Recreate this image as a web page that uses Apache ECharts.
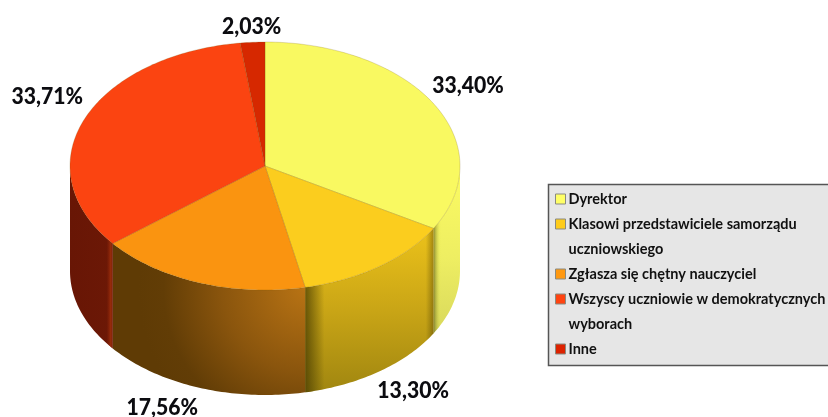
<!DOCTYPE html>
<html><head><meta charset="utf-8">
<style>html,body{margin:0;padding:0;background:#fff;overflow:hidden}#c{width:828px;height:417px}</style>
<script src="https://cdn.jsdelivr.net/npm/echarts@6/dist/echarts.min.js"></script>
</head><body><div id="c"></div>
<script>
const categories = ['Dyrektor','Klasowi przedstawiciele samorządu\nuczniowskiego','Zgłasza się chętny nauczyciel','Wszyscy uczniowie w demokratycznych\nwyborach','Inne'];
const values = [33.40,13.30,17.56,33.71,2.03];
const topColors = ['#f9f961','#fbcd1e','#fa9410','#fb4411','#d62800'];
const swatchColors = ['#ffff66','#ffcc1a','#ff9911','#ff4411','#dd2200'];

// Pie geometry
const CX=265, CY=166, RX=195, RY=124, DEPTH=105;
const labelOffsets=[[34,-18],[34,19],[-37,20],[-37,-23],[-1,-16]];
const LG=(x,y,x2,y2,stops)=>new echarts.graphic.LinearGradient(x,y,x2,y2,stops.map(s=>({offset:s[0],color:s[1]})));
const RG=(x,y,r,stops)=>new echarts.graphic.RadialGradient(x,y,r,stops.map(s=>({offset:s[0],color:s[1]})));
const wallFill=[
  ()=>LG(0,0,0,1,[[0,'#fbfb62'],[0.55,'#eeee62'],[1,'#d8d85c']]),
  ()=>LG(0,0,0,1,[[0,'#ecc21a'],[0.5,'#c9a516'],[1,'#a08610']]),
  ()=>RG(1,0.3,1.1,[[0,'#b87314'],[0.5,'#8a550d'],[0.85,'#623d06'],[1,'#5f3b05']]),
  ()=>LG(0,0,1,0,[[0,'#681605'],[1,'#6c1806']]),
  ()=>'#6a1705'
];
const wallEdge=[
  ()=>LG(0,0,1,0,[[0,'rgba(90,90,30,0.7)'],[0.14,'rgba(150,150,40,0.3)'],[0.3,'rgba(255,255,90,0)'],[1,'rgba(255,255,90,0)']]),
  ()=>LG(0,0,1,0,[[0,'rgba(60,50,0,0.7)'],[0.15,'rgba(60,50,0,0)'],[0.94,'rgba(60,50,0,0)'],[1,'rgba(60,50,0,0.4)']]),
  null,
  ()=>LG(0,0,1,0,[[0,'rgba(150,40,10,0)'],[0.86,'rgba(150,40,10,0)'],[0.96,'rgba(165,50,12,0.85)'],[1,'rgba(120,30,8,0.4)']]),
  null
];
const rim=(deg,dy)=>{const a=deg*Math.PI/180;return [CX+RX*Math.sin(a),CY-RY*Math.cos(a)+(dy||0)];};
const total=values.reduce((a,b)=>a+b,0);
const startDeg=i=>values.slice(0,i).reduce((a,b)=>a+b,0)/total*360;

function arc(a0,a1,dy){const pts=[];const n=Math.max(2,Math.ceil((a1-a0)/1));for(let k=0;k<=n;k++)pts.push(rim(a0+(a1-a0)*k/n,dy));return pts;}

function renderItem(params,api){
  const i=params.dataIndex, v=api.value(0);
  const a0=startDeg(i), a1=a0+v/total*360;
  const children=[];
  const w0=Math.max(a0,90), w1=Math.min(a1,270);
  if(w1>w0){
    const wall=arc(w0,w1,0).concat(arc(w0,w1,DEPTH).reverse());
    children.push({type:'polygon',shape:{points:wall},style:{fill:wallFill[i](),stroke:null}});
    if(wallEdge[i]) children.push({type:'polygon',shape:{points:wall},style:{fill:wallEdge[i](),stroke:null}});
  }
  children.push({type:'polygon',shape:{points:[[CX,CY]].concat(arc(a0,a1,0))},
    style:{fill:topColors[i],stroke:'rgba(110,80,0,0.35)',lineWidth:0.6}});
  const mid=(a0+a1)/2, front=mid>90&&mid<270, p=rim(mid,front?DEPTH:0), o=labelOffsets[i];
  children.push({type:'text',x:p[0]+o[0],y:p[1]+o[1],scaleX:0.94,style:{x:0,y:0,
    text:v.toFixed(2).replace('.',',')+'%',align:'center',verticalAlign:'middle',
    fill:'#0c0c10',font:'900 22.5px Lato'}});
  return {type:'group',children};
}

// Legend box
const LEGEND_X=548, LEGEND_Y=184.5, LINE=25;
const legendEls=[{type:'rect',shape:{x:LEGEND_X+0.5,y:LEGEND_Y,width:290,height:181},
  style:{fill:'#e6e6e6',stroke:'#555',lineWidth:1.5}}];
let row=0;
categories.forEach((name,i)=>{
  const y=LEGEND_Y+14.5+row*LINE;
  legendEls.push({type:'rect',shape:{x:555.5,y:y-5,width:10,height:10},style:{fill:swatchColors[i],stroke:'#8a8a80',lineWidth:1}});
  name.split('\n').forEach((ln,k)=>{
    legendEls.push({type:'text',x:568.5,y:y+k*LINE,style:{x:0,y:0,text:ln,fill:'#111',font:'bold 14.5px Lato',verticalAlign:'middle',align:'left'}});
  });
  row+=name.split('\n').length;
});

const chart=echarts.init(document.getElementById('c'),null,{renderer:'canvas'});
chart.setOption({
  animation:false,
  backgroundColor:'#fff',
  graphic:{elements:legendEls.map(e=>Object.assign({silent:true},e))},
  series:[{type:'custom',coordinateSystem:'none',renderItem,clip:false,silent:true,
    data:values.map((v,i)=>({name:categories[i],value:[v]}))}]
});
</script></body></html>
